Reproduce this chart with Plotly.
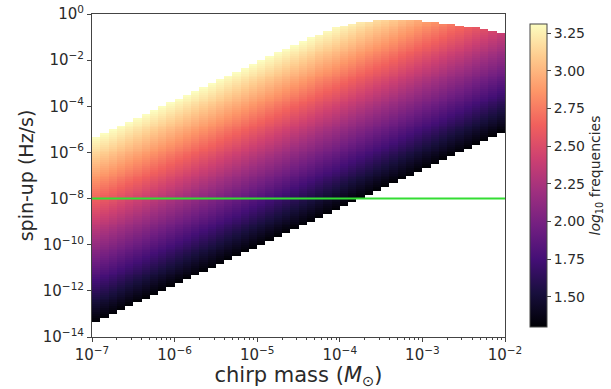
import numpy as np
import plotly.graph_objects as go

# ---- data ----
# chirp-mass columns: log10 edges, 0.1 decade wide, from 1e-7 to 1e-2
chirp_log_edges = [round(-7 + 0.1 * i, 2) for i in range(51)]
# spin-up rows: log10 edges, 1/12 decade wide, from 1e-14 to 1e0
spin_log_edges = [-14 + k / 12 for k in range(169)]

# lower edge of the coloured band in each column (log10 Hz/s), where log10 f = 1.30
spinup_low = [-13.34, -13.17, -13.01, -12.84, -12.67, -12.51, -12.34, -12.17, -12.01, -11.84,
              -11.67, -11.51, -11.34, -11.17, -11.01, -10.84, -10.67, -10.51, -10.34, -10.17,
              -10.01, -9.84, -9.67, -9.51, -9.34, -9.17, -9.01, -8.84, -8.67, -8.51,
              -8.34, -8.17, -8.01, -7.84, -7.67, -7.51, -7.34, -7.17, -7.01, -6.84,
              -6.67, -6.51, -6.34, -6.17, -6.01, -5.84, -5.67, -5.51, -5.34, -5.17]
# upper edge of the coloured band in each column (log10 Hz/s)
spinup_high = [-5.37, -5.20, -5.04, -4.87, -4.70, -4.54, -4.37, -4.20, -4.04, -3.87,
               -3.70, -3.54, -3.37, -3.20, -3.04, -2.87, -2.70, -2.54, -2.37, -2.20,
               -2.04, -1.87, -1.70, -1.54, -1.37, -1.20, -1.04, -0.88, -0.74, -0.62,
               -0.52, -0.44, -0.37, -0.32, -0.28, -0.26, -0.25, -0.25, -0.26, -0.28,
               -0.31, -0.35, -0.39, -0.44, -0.50, -0.56, -0.62, -0.68, -0.75, -0.82]
# log10 frequency at the lower and upper edges of each column
logf_low = 1.30
logf_high = [3.31, 3.31, 3.31, 3.31, 3.31, 3.31, 3.31, 3.31, 3.31, 3.31,
             3.31, 3.31, 3.31, 3.31, 3.31, 3.31, 3.31, 3.31, 3.31, 3.31,
             3.31, 3.31, 3.31, 3.31, 3.31, 3.31, 3.31, 3.30, 3.30, 3.29,
             3.27, 3.25, 3.22, 3.19, 3.16, 3.13, 3.09, 3.04, 3.00, 2.95,
             2.90, 2.85, 2.80, 2.74, 2.69, 2.63, 2.57, 2.52, 2.46, 2.40]

threshold_spinup = 1e-8
cbar_ticks = [1.50, 1.75, 2.00, 2.25, 2.50, 2.75, 3.00, 3.25]
x_tick_exponents = [-7, -6, -5, -4, -3, -2]
y_tick_exponents = [0, -2, -4, -6, -8, -10, -12, -14]

# ---- build the grid ----
ncol = len(chirp_log_edges) - 1
nrow = len(spin_log_edges) - 1
z = np.full((nrow, ncol), np.nan)
for i in range(ncol):
    lo, hi = spinup_low[i], spinup_high[i]
    for k in range(nrow):
        yc = 0.5 * (spin_log_edges[k] + spin_log_edges[k + 1])
        if lo <= yc <= hi:
            z[k, i] = logf_low + (yc - lo) / (hi - lo) * (logf_high[i] - logf_low)

xe = [10 ** v for v in chirp_log_edges]
ye = [10 ** v for v in spin_log_edges]


def pow_label(e):
    return "10<sup>" + (str(e).replace("-", "\u2212")) + "</sup>"


font = "DejaVu Sans"
txt = "#2a2a2a"
axc = "#444"
fig = go.Figure()
fig.add_trace(go.Heatmap(
    x=xe, y=ye, z=z, colorscale="Magma", zmin=1.30, zmax=3.31,
    hoverongaps=False,
    colorbar=dict(
        x=(530 - 92) / 413, xanchor="left", xpad=0, y=0.5, yanchor="middle",
        len=1, lenmode="fraction", thickness=17, outlinewidth=1, outlinecolor=axc,
        tickvals=cbar_ticks, ticktext=[f"{v:.2f}" for v in cbar_ticks],
        ticks="outside", ticklen=4, tickcolor=axc,
        tickfont=dict(family=font, size=14, color=txt),
        title=dict(text="<i>log</i><sub>10</sub> frequencies", side="right",
                   font=dict(family=font, size=14, color=txt)),
    ),
))
fig.add_hline(y=threshold_spinup, line=dict(color="#33dd33", width=2))

fig.update_xaxes(
    type="log", range=[-7, -2],
    tickvals=[10 ** e for e in x_tick_exponents],
    ticktext=[pow_label(e) for e in x_tick_exponents],
    showline=True, mirror=True, linecolor=axc, linewidth=1,
    ticks="outside", ticklen=4, tickcolor=axc, showgrid=False, zeroline=False,
    minor=dict(ticks="outside", ticklen=2, tickcolor=axc, dtick="D1", showgrid=False),
    tickfont=dict(family=font, size=15, color=txt),
    title=dict(text="chirp mass (<i>M</i><sub>⊙</sub>)", standoff=1,
               font=dict(family=font, size=21, color=txt)),
)
fig.update_yaxes(
    type="log", range=[-14, 0],
    tickvals=[10 ** e for e in y_tick_exponents],
    ticktext=[pow_label(e) for e in y_tick_exponents],
    showline=True, mirror=True, linecolor=axc, linewidth=1,
    ticks="outside", ticklen=4, tickcolor=axc, showgrid=False, zeroline=False,
    tickfont=dict(family=font, size=15, color=txt),
    title=dict(text="spin-up (Hz/s)", standoff=4,
               font=dict(family=font, size=19, color=txt)),
)
fig.update_layout(
    width=611, height=389,
    margin=dict(l=92, r=106, t=14, b=52, autoexpand=False),
    paper_bgcolor="white", plot_bgcolor="white", showlegend=False,
)
fig.write_html("out.html")
